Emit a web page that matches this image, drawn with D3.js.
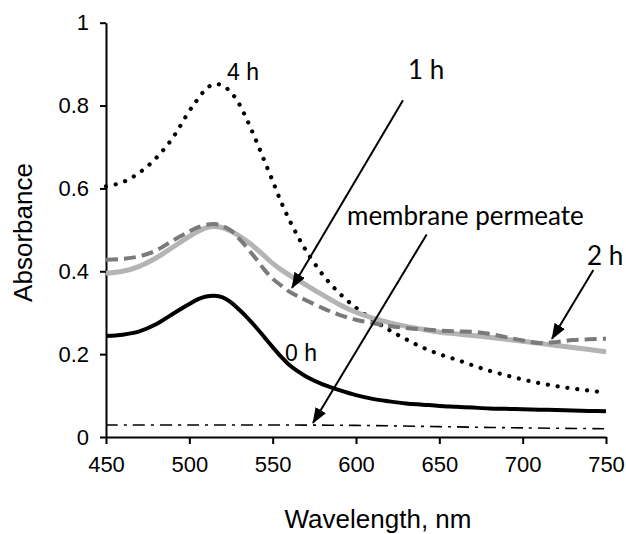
<!DOCTYPE html>
<html>
<head>
<meta charset="utf-8">
<script src="https://cdn.jsdelivr.net/npm/d3@7"></script>
<style>
  html, body { margin: 0; padding: 0; background: #fff; }
  svg { display: block; }
</style>
</head>
<body>
<svg id="chart" width="626" height="534"></svg>
<script>
// ---------- data ----------
const wavelengths = [450,460,470,480,490,500,505,510,515,520,525,530,535,540,545,550,555,560,565,570,580,590,600,610,620,630,640,650,660,670,680,690,700,710,720,730,740,750];
const abs0h = [0.244,0.247,0.255,0.272,0.297,0.321,0.332,0.339,0.341,0.337,0.325,0.307,0.287,0.265,0.241,0.217,0.194,0.174,0.159,0.146,0.127,0.113,0.101,0.092,0.086,0.081,0.078,0.075,0.073,0.071,0.069,0.068,0.067,0.066,0.065,0.064,0.063,0.062];
const abs1h = [0.395,0.400,0.412,0.432,0.458,0.484,0.496,0.505,0.508,0.505,0.497,0.485,0.471,0.455,0.437,0.419,0.404,0.391,0.379,0.367,0.343,0.320,0.301,0.287,0.276,0.267,0.260,0.253,0.249,0.245,0.241,0.236,0.231,0.226,0.221,0.216,0.211,0.206];
const abs2h = [0.428,0.430,0.436,0.450,0.474,0.496,0.506,0.512,0.514,0.509,0.498,0.478,0.455,0.430,0.404,0.382,0.366,0.351,0.340,0.330,0.311,0.295,0.283,0.275,0.268,0.263,0.260,0.257,0.255,0.254,0.249,0.241,0.233,0.227,0.229,0.234,0.236,0.237];
const abs4h = [0.605,0.615,0.638,0.673,0.722,0.787,0.815,0.840,0.852,0.848,0.832,0.803,0.762,0.716,0.667,0.618,0.568,0.524,0.485,0.450,0.392,0.347,0.312,0.283,0.258,0.236,0.216,0.200,0.187,0.173,0.160,0.149,0.139,0.130,0.123,0.117,0.112,0.107];
const permeateWl = [450,500,550,600,650,700,750];
const absPermeate = [0.029,0.029,0.029,0.028,0.025,0.022,0.020];

const xTicks = [450,500,550,600,650,700,750];
const yTicks = [0,0.2,0.4,0.6,0.8,1];
const yTickLabels = ["0","0.2","0.4","0.6","0.8","1"];

// annotation labels: text baseline-left anchor in data units
const labels = [
  {text: "4 h", wl: 522.6, v: 0.862, font: "arial"},
  {text: "0 h", wl: 557.4, v: 0.183, font: "arial"},
  {text: "1 h", wl: 631.2, v: 0.864, font: "calibri"},
  {text: "membrane permeate", wl: 594.6, v: 0.512, font: "calibri"},
  {text: "2 h", wl: 738.6, v: 0.415, font: "calibri"}
];
// arrows: from (wl, v) to (wl, v)
const arrows = [
  {from: [628.2, 0.813], to: [561.6, 0.360]},
  {from: [642.4, 0.489], to: [574.2, 0.034]},
  {from: [742.4, 0.403], to: [717.6, 0.237]}
];

// ---------- layout ----------
const svg = d3.select("#chart");
const x = d3.scaleLinear().domain([450, 750]).range([106, 606]);
const y = d3.scaleLinear().domain([0, 1]).range([437, 22.7]);
const ARIAL = "'Liberation Sans', Arial, sans-serif";
const CALIBRI = "Lato, 'Open Sans', sans-serif";

// axes
const yAxis = d3.axisLeft(y).tickValues(yTicks).tickSize(6).tickSizeOuter(0).tickPadding(11)
  .tickFormat((d, i) => yTickLabels[i]);
const xAxis = d3.axisBottom(x).tickValues(xTicks).tickSize(7).tickSizeOuter(0).tickPadding(12)
  .tickFormat(d3.format("d"));

const gx = svg.append("g").attr("transform", `translate(0,${y(0)})`).call(xAxis);
const gy = svg.append("g").attr("transform", `translate(${x(450)},0)`).call(yAxis);
[gx, gy].forEach(g => {
  g.select(".domain").attr("stroke", "#000").attr("stroke-width", 2);
  g.selectAll(".tick line").attr("stroke", "#000").attr("stroke-width", 2);
  g.selectAll(".tick text").attr("fill", "#000").style("font-family", ARIAL).style("font-size", "22px");
});

// axis titles
svg.append("text")
  .attr("transform", `translate(32,${232.5}) rotate(-90)`)
  .attr("text-anchor", "middle")
  .style("font-family", ARIAL).style("font-size", "26px").attr("fill", "#000")
  .text("Absorbance");
svg.append("text")
  .attr("x", 378).attr("y", 528)
  .attr("text-anchor", "middle")
  .style("font-family", ARIAL).style("font-size", "26px").attr("fill", "#000")
  .text("Wavelength, nm");

// lines
const line = d3.line().x(d => x(d[0])).y(d => y(d[1])).curve(d3.curveCatmullRom.alpha(0.5));
const zipS = vals => wavelengths.map((w, i) => [w, vals[i]]);

const plot = svg.append("g").attr("fill", "none");
plot.append("path").attr("d", line(permeateWl.map((w, i) => [w, absPermeate[i]])))
  .attr("stroke", "#000").attr("stroke-width", 1.6).attr("stroke-dasharray", "12,6,3,6");
plot.append("path").attr("d", line(zipS(abs0h)))
  .attr("stroke", "#000").attr("stroke-width", 4);
plot.append("path").attr("d", line(zipS(abs4h)))
  .attr("stroke", "#000").attr("stroke-width", 4.2).attr("stroke-linecap", "round")
  .attr("stroke-dasharray", "0.1,9.8");
plot.append("path").attr("d", line(zipS(abs1h)))
  .attr("stroke", "#b4b4b4").attr("stroke-width", 5);
plot.append("path").attr("d", line(zipS(abs2h)))
  .attr("stroke", "#7a7a7a").attr("stroke-width", 4).attr("stroke-dasharray", "12,6");

// arrow marker
svg.append("defs").append("marker")
  .attr("id", "ah").attr("markerUnits", "userSpaceOnUse")
  .attr("viewBox", "0 0 16 12").attr("markerWidth", 16).attr("markerHeight", 12)
  .attr("refX", 15).attr("refY", 6).attr("orient", "auto")
  .append("path").attr("d", "M0,0 L16,6 L0,12 Z").attr("fill", "#000");

svg.append("g").selectAll("line").data(arrows).join("line")
  .attr("x1", d => x(d.from[0])).attr("y1", d => y(d.from[1]))
  .attr("x2", d => x(d.to[0])).attr("y2", d => y(d.to[1]))
  .attr("stroke", "#000").attr("stroke-width", 2)
  .attr("marker-end", "url(#ah)");

// annotation labels
svg.append("g").selectAll("text").data(labels).join("text")
  .attr("x", d => x(d.wl)).attr("y", d => y(d.v))
  .style("font-family", d => d.font === "arial" ? ARIAL : CALIBRI)
  .style("font-size", d => d.font === "arial" ? "23px" : "26px")
  .attr("fill", "#000")
  .text(d => d.text);
</script>
</body>
</html>
